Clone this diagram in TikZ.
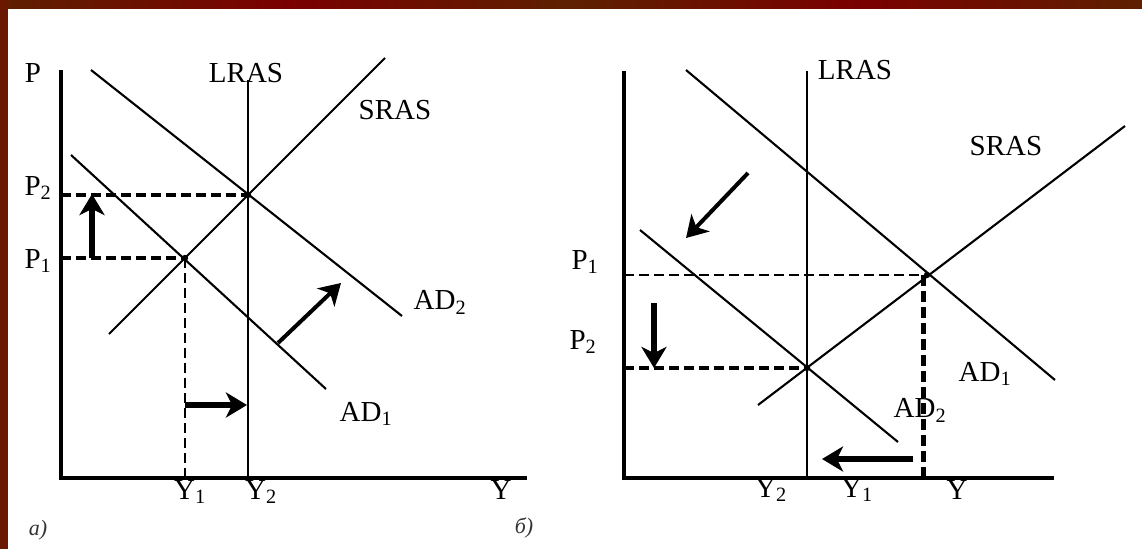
\documentclass[tikz,border=0pt]{standalone}
\usepackage{fontspec}
\setmainfont{Liberation Serif}
\usetikzlibrary{arrows.meta}
\definecolor{framebrown}{HTML}{5E2000}
\definecolor{framered}{HTML}{7A0000}
\definecolor{frameleft}{HTML}{6A1800}
\begin{document}
\begin{tikzpicture}[x=1pt,y=-1pt,
  lab/.style={font=\fontsize{29}{31}\selectfont, inner sep=0pt},
  tag/.style={font=\fontsize{22}{24}\selectfont\itshape, inner sep=0pt, text=black!80},
  axisline/.style={line width=3.2pt},
  curve/.style={line width=2.1pt},
  lrasline/.style={line width=2.6pt},
  guide/.style={line width=4.2pt, dash pattern=on 10pt off 5pt},
  thinguide/.style={line width=2.4pt, dash pattern=on 10pt off 5pt},
  shiftarrow/.style={line width=5.2pt, -{Stealth[length=21pt,width=25pt,inset=6pt]}},
]
\useasboundingbox (0,0) rectangle (1142,549);
\fill[white] (0,0) rectangle (1142,549);
\shade[left color=framebrown, right color=framebrown, middle color=framered] (0,0) rectangle (571,8);
\shade[left color=framebrown, right color=framebrown, middle color=framered] (571,0) rectangle (1142,8);
\fill[frameleft] (0,0) rectangle (8,549);

% ---------- panel a ----------
\coordinate (a-o) at (61,478);
\coordinate (a-ytop) at (61,70);
\coordinate (a-xend) at (527,478);
\coordinate (a-lrastop) at (248,80);
\coordinate (a-lrasbot) at (248,478);
\coordinate (a-E2) at (248,195);
\coordinate (a-E1) at (185,258);
\coordinate (a-srass) at (109,334);
\coordinate (a-srase) at (385,58);
\coordinate (a-ad2s) at (91,70);
\coordinate (a-ad2e) at (402,316);
\coordinate (a-ad1s) at (71,155);
\coordinate (a-ad1e) at (326,389);
\coordinate (a-p2) at (61,195);
\coordinate (a-p1) at (61,258);
\coordinate (a-y1) at (185,478);
\coordinate (a-up0) at (92,258);
\coordinate (a-up1) at (92,194);
\coordinate (a-r0) at (185,405);
\coordinate (a-r1) at (247,405);
\coordinate (a-d0) at (278,343);
\coordinate (a-d1) at (341,283);

\draw[axisline] (a-ytop) -- (a-o) -- (a-xend);
\draw[lrasline] (a-lrastop) -- (a-lrasbot);
\draw[curve] (a-srass) -- (a-srase);
\draw[curve] (a-ad2s) -- (a-ad2e);
\draw[curve] (a-ad1s) -- (a-ad1e);
\draw[guide] (a-p2) -- (a-E2);
\draw[guide] (a-p1) -- (a-E1);
\draw[thinguide] (a-E1) -- (a-y1);
\fill (a-E1) circle (3.2pt);
\fill (a-E2) circle (3.2pt);
\draw[shiftarrow] (a-up0) -- (a-up1);
\draw[shiftarrow] (a-r0) -- (a-r1);
\draw[shiftarrow, line width=4pt] (a-d0) -- (a-d1);

\node[lab] (a-P) at (33,73) {P};
\node[lab] (a-LRAS) at (246,73) {LRAS};
\node[lab] (a-SRAS) at (395,110) {SRAS};
\node[lab] (a-P2) at (38,188) {P\textsubscript{2}};
\node[lab] (a-P1) at (38,261) {P\textsubscript{1}};
\node[lab] (a-AD2) at (440,302) {AD\textsubscript{2}};
\node[lab] (a-AD1) at (366,414) {AD\textsubscript{1}};
\node[lab] (a-Y1) at (190,492) {Y\textsubscript{1}};
\node[lab] (a-Y2) at (261,492) {Y\textsubscript{2}};
\node[lab] (a-Y) at (501,490) {Y};
\node[tag] (a-tag) at (38,530) {а)};

% ---------- panel b ----------
\coordinate (b-o) at (624,478);
\coordinate (b-ytop) at (624,71);
\coordinate (b-xend) at (1054,478);
\coordinate (b-lrastop) at (807,71);
\coordinate (b-lrasbot) at (807,478);
\coordinate (b-E3) at (927,275);
\coordinate (b-E4) at (807,368);
\coordinate (b-srass) at (758,405);
\coordinate (b-srase) at (1125,126);
\coordinate (b-ad1s) at (686,70);
\coordinate (b-ad1e) at (1055,380);
\coordinate (b-ad2s) at (640,230);
\coordinate (b-ad2e) at (898,442);
\coordinate (b-p1) at (624,275);
\coordinate (b-p2) at (624,368);
\coordinate (b-vtop) at (923,275);
\coordinate (b-vbot) at (923,478);
\coordinate (b-dn0) at (654,303);
\coordinate (b-dn1) at (654,368);
\coordinate (b-dg0) at (748,173);
\coordinate (b-dg1) at (686,238);
\coordinate (b-l0) at (913,459);
\coordinate (b-l1) at (822,459);

\draw[axisline] (b-ytop) -- (b-o) -- (b-xend);
\draw[lrasline] (b-lrastop) -- (b-lrasbot);
\draw[curve] (b-srass) -- (b-srase);
\draw[curve] (b-ad1s) -- (b-ad1e);
\draw[curve] (b-ad2s) -- (b-ad2e);
\draw[thinguide] (b-p1) -- (b-E3);
\draw[guide] (b-p2) -- (b-E4);
\draw[line width=5pt, dash pattern=on 11pt off 5pt] (b-vtop) -- (b-vbot);
\fill (b-E3) circle (3.2pt);
\fill (b-E4) circle (3.2pt);
\draw[shiftarrow] (b-dn0) -- (b-dn1);
\draw[shiftarrow, line width=4pt] (b-dg0) -- (b-dg1);
\draw[shiftarrow, line width=6pt] (b-l0) -- (b-l1);

\node[lab] (b-LRAS) at (855,70) {LRAS};
\node[lab] (b-SRAS) at (1006,146) {SRAS};
\node[lab] (b-P1) at (585,262) {P\textsubscript{1}};
\node[lab] (b-P2) at (583,342) {P\textsubscript{2}};
\node[lab] (b-AD1) at (985,374) {AD\textsubscript{1}};
\node[lab] (b-AD2) at (920,410) {AD\textsubscript{2}};
\node[lab] (b-Y2) at (771,490) {Y\textsubscript{2}};
\node[lab] (b-Y1) at (857,490) {Y\textsubscript{1}};
\node[lab] (b-Y) at (957,490) {Y};
\node[tag] (b-tag) at (524,528) {б)};
\end{tikzpicture}
\end{document}
